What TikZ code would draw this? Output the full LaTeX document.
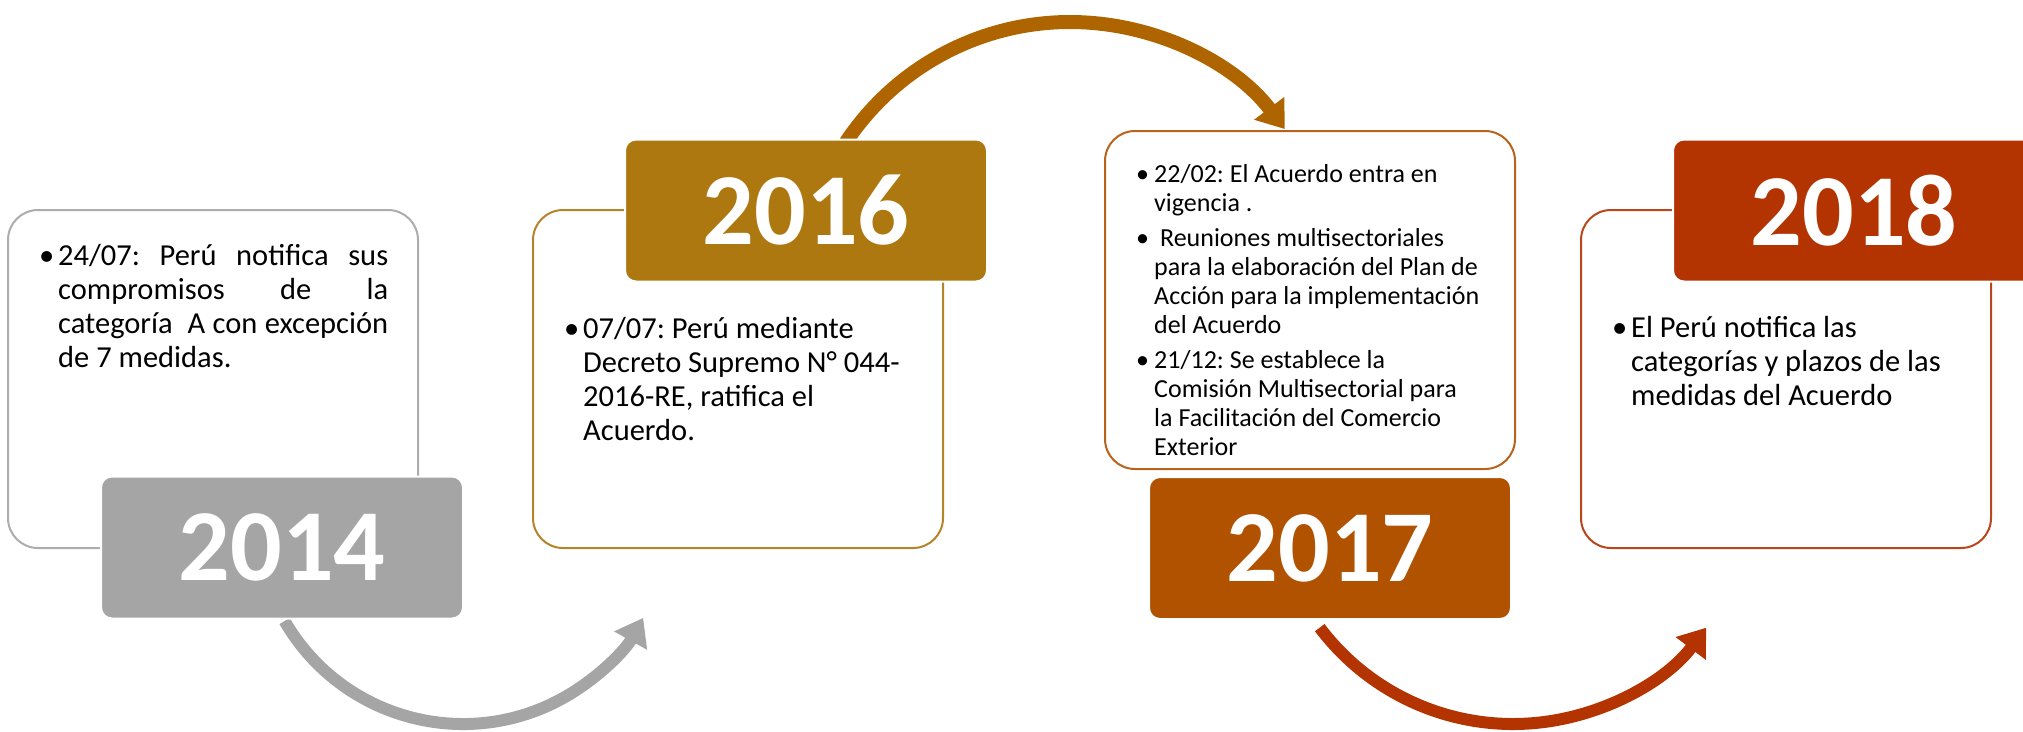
\documentclass[tikz,border=0pt]{standalone}
\usepackage{fontspec}
\setmainfont{Carlito}
\usetikzlibrary{arrows.meta}
\definecolor{cgray}{HTML}{A5A5A5}
\definecolor{cgrayline}{HTML}{ADADAD}
\definecolor{c16}{HTML}{AE7811}
\definecolor{c16line}{HTML}{B5842A}
\definecolor{carr2}{HTML}{AE6500}
\definecolor{c17}{HTML}{B05200}
\definecolor{c17line}{HTML}{B8631C}
\definecolor{c18}{HTML}{B33400}
\definecolor{c18line}{HTML}{BA471C}
\newcommand{\bul}[1]{\makebox[#1][l]{\char"2022}}
\frenchspacing
\begin{document}
\begin{tikzpicture}[x=1pt,y=-1pt,
  card/.style={draw, line width=2pt, fill=white, rounded corners=30pt,
    minimum width=410pt, minimum height=338pt, inner sep=0},
  year/.style={draw=white, line width=2pt, rounded corners=11pt,
    minimum width=362pt, minimum height=142pt, text=white, inner sep=0,
    font=\bfseries\fontsize{102}{102}\selectfont},
  txt/.style={anchor=base west, inner sep=0, font=\fontsize{30.5}{34}\selectfont},
  smalltxt/.style={anchor=base west, inner sep=0, font=\fontsize{26}{29}\selectfont},
  arcarrow/.style={line width=12pt, -{Triangle[length=26pt,width=36pt]}}
]
\useasboundingbox (0,0) rectangle (2023,731);
\clip (0,0) rectangle (2023,731);

% arrows
\coordinate (a1s) at ({463+206*cos(150)},{518+206*sin(150)});
\draw[arcarrow, cgray] (a1s) arc[start angle=150, end angle=29, radius=206];
\coordinate (a2s) at ({1070+269*cos(213)},{291+269*sin(213)});
\draw[arcarrow, carr2, line width=14pt] (a2s) arc[start angle=213, end angle=323, radius=269];
\coordinate (a3s) at ({1513+242*cos(143)},{482+242*sin(143)});
\draw[arcarrow, c18] (a3s) arc[start angle=143, end angle=37, radius=242];

% cards
\node[card, draw=cgrayline] (b1) at (213,379) {};
\node[card, draw=c16line] (b2) at (738,379) {};
\node[card, draw=c17line] (b3) at (1310,300) {};
\node[card, draw=c18line] (b4) at (1786,379) {};

% year boxes
\node[year, fill=cgray] (y14) at (282,547.5) {2014};
\node[year, fill=c16] (y16) at (806,210.5) {2016};
\node[year, fill=c17] (y17) at (1330,548) {2017};
\node[year, fill=c18] (y18) at (1854,210.5) {2018};

% texts
\node[txt] (t1) at (39,265) {\bul{19pt}\begin{tabular}[t]{@{}l@{}}
\makebox[330pt][s]{24/07: Perú notifica sus}\\
\makebox[330pt][s]{compromisos de la}\\
\makebox[330pt][s]{categoría \ A con excepción}\\
de 7 medidas.
\end{tabular}};

\node[txt] (t2) at (564,338) {\bul{19pt}\begin{tabular}[t]{@{}l@{}}
07/07: Perú mediante\\
Decreto Supremo N° 044-\\
2016-RE, ratifica el\\
Acuerdo.
\end{tabular}};

\node[smalltxt] (t3) at (1136,182) {\begin{tabular}[t]{@{}l@{}l@{}}
\bul{18pt}& 22/02: El Acuerdo entra en\\
 & vigencia .\\[6pt]
\bul{18pt}& \ Reuniones multisectoriales\\
 & para la elaboración del Plan de\\
 & Acción para la implementación\\
 & del Acuerdo\\[6pt]
\bul{18pt}& 21/12: Se establece la\\
 & Comisión Multisectorial para\\
 & la Facilitación del Comercio\\
 & Exterior
\end{tabular}};

\node[txt] (t4) at (1612,337) {\bul{19pt}\begin{tabular}[t]{@{}l@{}}
El Perú notifica las\\
categorías y plazos de las\\
medidas del Acuerdo
\end{tabular}};
\end{tikzpicture}
\end{document}
